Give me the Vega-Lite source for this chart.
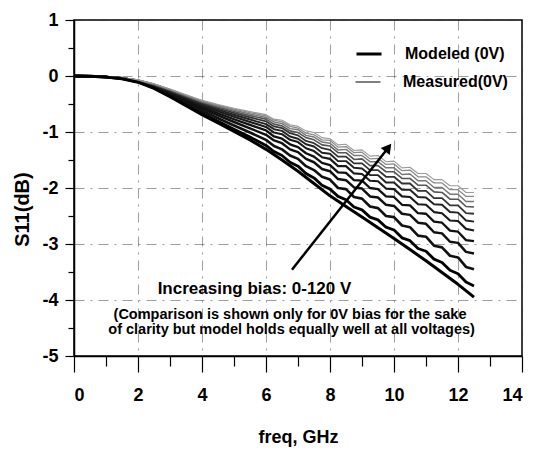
{
"$schema": "https://vega.github.io/schema/vega-lite/v6.json",
"width": 448, "height": 336,
"autosize": "none",
"padding": {"left": 74, "top": 20, "right": 11, "bottom": 99},
"background": "white",
"config": {
  "font": "Liberation Sans, Arial, sans-serif",
  "view": {"stroke": "#000", "strokeWidth": 1.5},
  "axis": {"domainColor": "#000", "domainWidth": 1.5, "tickColor": "#000", "tickWidth": 1.2, "labelColor": "#000", "titleColor": "#000", "labelFontWeight": "bold", "titleFontWeight": "bold", "gridColor": "#333", "gridDash": [10, 6, 2, 6], "gridWidth": 0.8, "gridOpacity": 0.6}
},
"resolve": {"axis": {"x": "independent", "y": "independent"}},
"layer": [
{
"data": {"values": [
{"s":"Measured(0V)","f":0,"v":0},{"s":"Measured(0V)","f":0.5,"v":-0.005},{"s":"Measured(0V)","f":1,"v":-0.019},{"s":"Measured(0V)","f":1.5,"v":-0.048},{"s":"Measured(0V)","f":2,"v":-0.106},{"s":"Measured(0V)","f":2.5,"v":-0.212},{"s":"Measured(0V)","f":3,"v":-0.357},{"s":"Measured(0V)","f":3.5,"v":-0.511},{"s":"Measured(0V)","f":4,"v":-0.665},{"s":"Measured(0V)","f":4.5,"v":-0.808},{"s":"Measured(0V)","f":5,"v":-0.95},{"s":"Measured(0V)","f":5.5,"v":-1.091},
{"s":"Measured(0V)","f":6,"v":-1.24},{"s":"Measured(0V)","f":6.25,"v":-1.35},{"s":"Measured(0V)","f":6.5,"v":-1.42},{"s":"Measured(0V)","f":6.75,"v":-1.54},{"s":"Measured(0V)","f":7,"v":-1.61},{"s":"Measured(0V)","f":7.25,"v":-1.74},{"s":"Measured(0V)","f":7.5,"v":-1.82},{"s":"Measured(0V)","f":7.75,"v":-1.95},{"s":"Measured(0V)","f":8,"v":-2.02},{"s":"Measured(0V)","f":8.25,"v":-2.15},{"s":"Measured(0V)","f":8.5,"v":-2.21},{"s":"Measured(0V)","f":8.75,"v":-2.34},{"s":"Measured(0V)","f":9,"v":-2.39},{"s":"Measured(0V)","f":9.25,"v":-2.52},{"s":"Measured(0V)","f":9.5,"v":-2.57},{"s":"Measured(0V)","f":9.75,"v":-2.70},{"s":"Measured(0V)","f":10,"v":-2.75},{"s":"Measured(0V)","f":10.25,"v":-2.89},{"s":"Measured(0V)","f":10.5,"v":-2.94},{"s":"Measured(0V)","f":10.75,"v":-3.08},{"s":"Measured(0V)","f":11,"v":-3.13},{"s":"Measured(0V)","f":11.25,"v":-3.27},{"s":"Measured(0V)","f":11.5,"v":-3.33},{"s":"Measured(0V)","f":11.75,"v":-3.47},{"s":"Measured(0V)","f":12,"v":-3.53},{"s":"Measured(0V)","f":12.25,"v":-3.68},{"s":"Measured(0V)","f":12.5,"v":-3.75},

{"s":"12V","f":0,"v":0},{"s":"12V","f":0.5,"v":-0.005},{"s":"12V","f":1,"v":-0.018},{"s":"12V","f":1.5,"v":-0.045},{"s":"12V","f":2,"v":-0.099},{"s":"12V","f":2.5,"v":-0.199},{"s":"12V","f":3,"v":-0.334},{"s":"12V","f":3.5,"v":-0.479},{"s":"12V","f":4,"v":-0.624},{"s":"12V","f":4.5,"v":-0.754},{"s":"12V","f":5,"v":-0.883},{"s":"12V","f":5.5,"v":-1.01},
{"s":"12V","f":6,"v":-1.14},{"s":"12V","f":6.25,"v":-1.25},{"s":"12V","f":6.5,"v":-1.31},{"s":"12V","f":6.75,"v":-1.42},{"s":"12V","f":7,"v":-1.48},{"s":"12V","f":7.25,"v":-1.61},{"s":"12V","f":7.5,"v":-1.68},{"s":"12V","f":7.75,"v":-1.80},{"s":"12V","f":8,"v":-1.85},{"s":"12V","f":8.25,"v":-2.00},{"s":"12V","f":8.5,"v":-2.02},{"s":"12V","f":8.75,"v":-2.16},{"s":"12V","f":9,"v":-2.19},{"s":"12V","f":9.25,"v":-2.33},{"s":"12V","f":9.5,"v":-2.36},{"s":"12V","f":9.75,"v":-2.50},{"s":"12V","f":10,"v":-2.52},{"s":"12V","f":10.25,"v":-2.67},{"s":"12V","f":10.5,"v":-2.70},{"s":"12V","f":10.75,"v":-2.85},{"s":"12V","f":11,"v":-2.87},{"s":"12V","f":11.25,"v":-3.03},{"s":"12V","f":11.5,"v":-3.06},{"s":"12V","f":11.75,"v":-3.21},{"s":"12V","f":12,"v":-3.24},{"s":"12V","f":12.25,"v":-3.41},{"s":"12V","f":12.5,"v":-3.45},

{"s":"24V","f":0,"v":0},{"s":"24V","f":0.5,"v":-0.004},{"s":"24V","f":1,"v":-0.017},{"s":"24V","f":1.5,"v":-0.042},{"s":"24V","f":2,"v":-0.093},{"s":"24V","f":2.5,"v":-0.187},{"s":"24V","f":3,"v":-0.314},{"s":"24V","f":3.5,"v":-0.449},{"s":"24V","f":4,"v":-0.585},{"s":"24V","f":4.5,"v":-0.705},{"s":"24V","f":5,"v":-0.821},{"s":"24V","f":5.5,"v":-0.935},
{"s":"24V","f":6,"v":-1.05},{"s":"24V","f":6.25,"v":-1.15},{"s":"24V","f":6.5,"v":-1.20},{"s":"24V","f":6.75,"v":-1.31},{"s":"24V","f":7,"v":-1.36},{"s":"24V","f":7.25,"v":-1.48},{"s":"24V","f":7.5,"v":-1.54},{"s":"24V","f":7.75,"v":-1.66},{"s":"24V","f":8,"v":-1.70},{"s":"24V","f":8.25,"v":-1.84},{"s":"24V","f":8.5,"v":-1.86},{"s":"24V","f":8.75,"v":-1.99},{"s":"24V","f":9,"v":-2.01},{"s":"24V","f":9.25,"v":-2.15},{"s":"24V","f":9.5,"v":-2.17},{"s":"24V","f":9.75,"v":-2.30},{"s":"24V","f":10,"v":-2.32},{"s":"24V","f":10.25,"v":-2.46},{"s":"24V","f":10.5,"v":-2.48},{"s":"24V","f":10.75,"v":-2.62},{"s":"24V","f":11,"v":-2.64},{"s":"24V","f":11.25,"v":-2.79},{"s":"24V","f":11.5,"v":-2.81},{"s":"24V","f":11.75,"v":-2.96},{"s":"24V","f":12,"v":-2.98},{"s":"24V","f":12.25,"v":-3.14},{"s":"24V","f":12.5,"v":-3.17},

{"s":"36V","f":0,"v":0},{"s":"36V","f":0.5,"v":-0.004},{"s":"36V","f":1,"v":-0.016},{"s":"36V","f":1.5,"v":-0.04},{"s":"36V","f":2,"v":-0.088},{"s":"36V","f":2.5,"v":-0.177},{"s":"36V","f":3,"v":-0.297},{"s":"36V","f":3.5,"v":-0.426},{"s":"36V","f":4,"v":-0.555},{"s":"36V","f":4.5,"v":-0.665},{"s":"36V","f":5,"v":-0.772},{"s":"36V","f":5.5,"v":-0.874},
{"s":"36V","f":6,"v":-0.97},{"s":"36V","f":6.25,"v":-1.08},{"s":"36V","f":6.5,"v":-1.12},{"s":"36V","f":6.75,"v":-1.22},{"s":"36V","f":7,"v":-1.27},{"s":"36V","f":7.25,"v":-1.38},{"s":"36V","f":7.5,"v":-1.44},{"s":"36V","f":7.75,"v":-1.55},{"s":"36V","f":8,"v":-1.59},{"s":"36V","f":8.25,"v":-1.72},{"s":"36V","f":8.5,"v":-1.73},{"s":"36V","f":8.75,"v":-1.86},{"s":"36V","f":9,"v":-1.87},{"s":"36V","f":9.25,"v":-2.00},{"s":"36V","f":9.5,"v":-2.02},{"s":"36V","f":9.75,"v":-2.15},{"s":"36V","f":10,"v":-2.16},{"s":"36V","f":10.25,"v":-2.30},{"s":"36V","f":10.5,"v":-2.31},{"s":"36V","f":10.75,"v":-2.45},{"s":"36V","f":11,"v":-2.46},{"s":"36V","f":11.25,"v":-2.60},{"s":"36V","f":11.5,"v":-2.62},{"s":"36V","f":11.75,"v":-2.76},{"s":"36V","f":12,"v":-2.78},{"s":"36V","f":12.25,"v":-2.93},{"s":"36V","f":12.5,"v":-2.95},

{"s":"48V","f":0,"v":0},{"s":"48V","f":0.5,"v":-0.004},{"s":"48V","f":1,"v":-0.015},{"s":"48V","f":1.5,"v":-0.038},{"s":"48V","f":2,"v":-0.084},{"s":"48V","f":2.5,"v":-0.168},{"s":"48V","f":3,"v":-0.283},{"s":"48V","f":3.5,"v":-0.405},{"s":"48V","f":4,"v":-0.527},{"s":"48V","f":4.5,"v":-0.629},{"s":"48V","f":5,"v":-0.728},{"s":"48V","f":5.5,"v":-0.821},
{"s":"48V","f":6,"v":-0.91},{"s":"48V","f":6.25,"v":-1.01},{"s":"48V","f":6.5,"v":-1.04},{"s":"48V","f":6.75,"v":-1.14},{"s":"48V","f":7,"v":-1.18},{"s":"48V","f":7.25,"v":-1.29},{"s":"48V","f":7.5,"v":-1.34},{"s":"48V","f":7.75,"v":-1.45},{"s":"48V","f":8,"v":-1.48},{"s":"48V","f":8.25,"v":-1.61},{"s":"48V","f":8.5,"v":-1.61},{"s":"48V","f":8.75,"v":-1.74},{"s":"48V","f":9,"v":-1.75},{"s":"48V","f":9.25,"v":-1.87},{"s":"48V","f":9.5,"v":-1.88},{"s":"48V","f":9.75,"v":-2.01},{"s":"48V","f":10,"v":-2.02},{"s":"48V","f":10.25,"v":-2.15},{"s":"48V","f":10.5,"v":-2.16},{"s":"48V","f":10.75,"v":-2.29},{"s":"48V","f":11,"v":-2.30},{"s":"48V","f":11.25,"v":-2.43},{"s":"48V","f":11.5,"v":-2.45},{"s":"48V","f":11.75,"v":-2.58},{"s":"48V","f":12,"v":-2.59},{"s":"48V","f":12.25,"v":-2.73},{"s":"48V","f":12.5,"v":-2.76},

{"s":"60V","f":0,"v":0},{"s":"60V","f":0.5,"v":-0.004},{"s":"60V","f":1,"v":-0.015},{"s":"60V","f":1.5,"v":-0.037},{"s":"60V","f":2,"v":-0.081},{"s":"60V","f":2.5,"v":-0.161},{"s":"60V","f":3,"v":-0.271},{"s":"60V","f":3.5,"v":-0.388},{"s":"60V","f":4,"v":-0.505},{"s":"60V","f":4.5,"v":-0.601},{"s":"60V","f":5,"v":-0.692},{"s":"60V","f":5.5,"v":-0.777},
{"s":"60V","f":6,"v":-0.86},{"s":"60V","f":6.25,"v":-0.95},{"s":"60V","f":6.5,"v":-0.98},{"s":"60V","f":6.75,"v":-1.08},{"s":"60V","f":7,"v":-1.12},{"s":"60V","f":7.25,"v":-1.22},{"s":"60V","f":7.5,"v":-1.26},{"s":"60V","f":7.75,"v":-1.37},{"s":"60V","f":8,"v":-1.39},{"s":"60V","f":8.25,"v":-1.52},{"s":"60V","f":8.5,"v":-1.52},{"s":"60V","f":8.75,"v":-1.64},{"s":"60V","f":9,"v":-1.65},{"s":"60V","f":9.25,"v":-1.77},{"s":"60V","f":9.5,"v":-1.77},{"s":"60V","f":9.75,"v":-1.90},{"s":"60V","f":10,"v":-1.90},{"s":"60V","f":10.25,"v":-2.03},{"s":"60V","f":10.5,"v":-2.03},{"s":"60V","f":10.75,"v":-2.16},{"s":"60V","f":11,"v":-2.17},{"s":"60V","f":11.25,"v":-2.29},{"s":"60V","f":11.5,"v":-2.30},{"s":"60V","f":11.75,"v":-2.43},{"s":"60V","f":12,"v":-2.44},{"s":"60V","f":12.25,"v":-2.58},{"s":"60V","f":12.5,"v":-2.60},

{"s":"72V","f":0,"v":0},{"s":"72V","f":0.5,"v":-0.004},{"s":"72V","f":1,"v":-0.014},{"s":"72V","f":1.5,"v":-0.035},{"s":"72V","f":2,"v":-0.077},{"s":"72V","f":2.5,"v":-0.155},{"s":"72V","f":3,"v":-0.26},{"s":"72V","f":3.5,"v":-0.373},{"s":"72V","f":4,"v":-0.486},{"s":"72V","f":4.5,"v":-0.576},{"s":"72V","f":5,"v":-0.66},{"s":"72V","f":5.5,"v":-0.74},
{"s":"72V","f":6,"v":-0.81},{"s":"72V","f":6.25,"v":-0.90},{"s":"72V","f":6.5,"v":-0.93},{"s":"72V","f":6.75,"v":-1.02},{"s":"72V","f":7,"v":-1.06},{"s":"72V","f":7.25,"v":-1.16},{"s":"72V","f":7.5,"v":-1.20},{"s":"72V","f":7.75,"v":-1.29},{"s":"72V","f":8,"v":-1.32},{"s":"72V","f":8.25,"v":-1.44},{"s":"72V","f":8.5,"v":-1.44},{"s":"72V","f":8.75,"v":-1.56},{"s":"72V","f":9,"v":-1.56},{"s":"72V","f":9.25,"v":-1.68},{"s":"72V","f":9.5,"v":-1.68},{"s":"72V","f":9.75,"v":-1.80},{"s":"72V","f":10,"v":-1.80},{"s":"72V","f":10.25,"v":-1.92},{"s":"72V","f":10.5,"v":-1.92},{"s":"72V","f":10.75,"v":-2.05},{"s":"72V","f":11,"v":-2.05},{"s":"72V","f":11.25,"v":-2.18},{"s":"72V","f":11.5,"v":-2.18},{"s":"72V","f":11.75,"v":-2.31},{"s":"72V","f":12,"v":-2.31},{"s":"72V","f":12.25,"v":-2.45},{"s":"72V","f":12.5,"v":-2.46},

{"s":"84V","f":0,"v":0},{"s":"84V","f":0.5,"v":-0.003},{"s":"84V","f":1,"v":-0.014},{"s":"84V","f":1.5,"v":-0.034},{"s":"84V","f":2,"v":-0.075},{"s":"84V","f":2.5,"v":-0.15},{"s":"84V","f":3,"v":-0.252},{"s":"84V","f":3.5,"v":-0.36},{"s":"84V","f":4,"v":-0.469},{"s":"84V","f":4.5,"v":-0.554},{"s":"84V","f":5,"v":-0.634},{"s":"84V","f":5.5,"v":-0.707},
{"s":"84V","f":6,"v":-0.77},{"s":"84V","f":6.25,"v":-0.86},{"s":"84V","f":6.5,"v":-0.89},{"s":"84V","f":6.75,"v":-0.98},{"s":"84V","f":7,"v":-1.01},{"s":"84V","f":7.25,"v":-1.10},{"s":"84V","f":7.5,"v":-1.14},{"s":"84V","f":7.75,"v":-1.23},{"s":"84V","f":8,"v":-1.25},{"s":"84V","f":8.25,"v":-1.37},{"s":"84V","f":8.5,"v":-1.37},{"s":"84V","f":8.75,"v":-1.49},{"s":"84V","f":9,"v":-1.48},{"s":"84V","f":9.25,"v":-1.60},{"s":"84V","f":9.5,"v":-1.60},{"s":"84V","f":9.75,"v":-1.71},{"s":"84V","f":10,"v":-1.71},{"s":"84V","f":10.25,"v":-1.83},{"s":"84V","f":10.5,"v":-1.83},{"s":"84V","f":10.75,"v":-1.95},{"s":"84V","f":11,"v":-1.95},{"s":"84V","f":11.25,"v":-2.07},{"s":"84V","f":11.5,"v":-2.08},{"s":"84V","f":11.75,"v":-2.20},{"s":"84V","f":12,"v":-2.20},{"s":"84V","f":12.25,"v":-2.33},{"s":"84V","f":12.5,"v":-2.34},

{"s":"96V","f":0,"v":0},{"s":"96V","f":0.5,"v":-0.003},{"s":"96V","f":1,"v":-0.013},{"s":"96V","f":1.5,"v":-0.033},{"s":"96V","f":2,"v":-0.073},{"s":"96V","f":2.5,"v":-0.145},{"s":"96V","f":3,"v":-0.244},{"s":"96V","f":3.5,"v":-0.35},{"s":"96V","f":4,"v":-0.455},{"s":"96V","f":4.5,"v":-0.537},{"s":"96V","f":5,"v":-0.612},{"s":"96V","f":5.5,"v":-0.679},
{"s":"96V","f":6,"v":-0.74},{"s":"96V","f":6.25,"v":-0.82},{"s":"96V","f":6.5,"v":-0.85},{"s":"96V","f":6.75,"v":-0.94},{"s":"96V","f":7,"v":-0.96},{"s":"96V","f":7.25,"v":-1.06},{"s":"96V","f":7.5,"v":-1.09},{"s":"96V","f":7.75,"v":-1.18},{"s":"96V","f":8,"v":-1.20},{"s":"96V","f":8.25,"v":-1.32},{"s":"96V","f":8.5,"v":-1.31},{"s":"96V","f":8.75,"v":-1.42},{"s":"96V","f":9,"v":-1.42},{"s":"96V","f":9.25,"v":-1.53},{"s":"96V","f":9.5,"v":-1.53},{"s":"96V","f":9.75,"v":-1.64},{"s":"96V","f":10,"v":-1.64},{"s":"96V","f":10.25,"v":-1.76},{"s":"96V","f":10.5,"v":-1.75},{"s":"96V","f":10.75,"v":-1.87},{"s":"96V","f":11,"v":-1.87},{"s":"96V","f":11.25,"v":-1.99},{"s":"96V","f":11.5,"v":-1.99},{"s":"96V","f":11.75,"v":-2.11},{"s":"96V","f":12,"v":-2.11},{"s":"96V","f":12.25,"v":-2.24},{"s":"96V","f":12.5,"v":-2.24},

{"s":"108V","f":0,"v":0},{"s":"108V","f":0.5,"v":-0.003},{"s":"108V","f":1,"v":-0.013},{"s":"108V","f":1.5,"v":-0.032},{"s":"108V","f":2,"v":-0.071},{"s":"108V","f":2.5,"v":-0.141},{"s":"108V","f":3,"v":-0.238},{"s":"108V","f":3.5,"v":-0.34},{"s":"108V","f":4,"v":-0.443},{"s":"108V","f":4.5,"v":-0.521},{"s":"108V","f":5,"v":-0.592},{"s":"108V","f":5.5,"v":-0.656},
{"s":"108V","f":6,"v":-0.71},{"s":"108V","f":6.25,"v":-0.79},{"s":"108V","f":6.5,"v":-0.82},{"s":"108V","f":6.75,"v":-0.90},{"s":"108V","f":7,"v":-0.93},{"s":"108V","f":7.25,"v":-1.02},{"s":"108V","f":7.5,"v":-1.05},{"s":"108V","f":7.75,"v":-1.14},{"s":"108V","f":8,"v":-1.15},{"s":"108V","f":8.25,"v":-1.27},{"s":"108V","f":8.5,"v":-1.26},{"s":"108V","f":8.75,"v":-1.37},{"s":"108V","f":9,"v":-1.36},{"s":"108V","f":9.25,"v":-1.48},{"s":"108V","f":9.5,"v":-1.47},{"s":"108V","f":9.75,"v":-1.58},{"s":"108V","f":10,"v":-1.57},{"s":"108V","f":10.25,"v":-1.69},{"s":"108V","f":10.5,"v":-1.68},{"s":"108V","f":10.75,"v":-1.80},{"s":"108V","f":11,"v":-1.80},{"s":"108V","f":11.25,"v":-1.91},{"s":"108V","f":11.5,"v":-1.91},{"s":"108V","f":11.75,"v":-2.03},{"s":"108V","f":12,"v":-2.03},{"s":"108V","f":12.25,"v":-2.15},{"s":"108V","f":12.5,"v":-2.15},

{"s":"120V","f":0,"v":0},{"s":"120V","f":0.5,"v":-0.003},{"s":"120V","f":1,"v":-0.013},{"s":"120V","f":1.5,"v":-0.031},{"s":"120V","f":2,"v":-0.069},{"s":"120V","f":2.5,"v":-0.138},{"s":"120V","f":3,"v":-0.232},{"s":"120V","f":3.5,"v":-0.333},{"s":"120V","f":4,"v":-0.433},{"s":"120V","f":4.5,"v":-0.508},{"s":"120V","f":5,"v":-0.576},{"s":"120V","f":5.5,"v":-0.636},
{"s":"120V","f":6,"v":-0.69},{"s":"120V","f":6.25,"v":-0.77},{"s":"120V","f":6.5,"v":-0.79},{"s":"120V","f":6.75,"v":-0.87},{"s":"120V","f":7,"v":-0.90},{"s":"120V","f":7.25,"v":-0.98},{"s":"120V","f":7.5,"v":-1.01},{"s":"120V","f":7.75,"v":-1.10},{"s":"120V","f":8,"v":-1.12},{"s":"120V","f":8.25,"v":-1.23},{"s":"120V","f":8.5,"v":-1.22},{"s":"120V","f":8.75,"v":-1.33},{"s":"120V","f":9,"v":-1.32},{"s":"120V","f":9.25,"v":-1.43},{"s":"120V","f":9.5,"v":-1.42},{"s":"120V","f":9.75,"v":-1.53},{"s":"120V","f":10,"v":-1.52},{"s":"120V","f":10.25,"v":-1.64},{"s":"120V","f":10.5,"v":-1.63},{"s":"120V","f":10.75,"v":-1.74},{"s":"120V","f":11,"v":-1.74},{"s":"120V","f":11.25,"v":-1.85},{"s":"120V","f":11.5,"v":-1.85},{"s":"120V","f":11.75,"v":-1.96},{"s":"120V","f":12,"v":-1.96},{"s":"120V","f":12.25,"v":-2.08},{"s":"120V","f":12.5,"v":-2.08},

{"s":"Modeled (0V)","f":0,"v":0},{"s":"Modeled (0V)","f":0.5,"v":-0.005},{"s":"Modeled (0V)","f":1,"v":-0.02},{"s":"Modeled (0V)","f":1.5,"v":-0.05},{"s":"Modeled (0V)","f":2,"v":-0.11},{"s":"Modeled (0V)","f":2.5,"v":-0.22},{"s":"Modeled (0V)","f":3,"v":-0.37},{"s":"Modeled (0V)","f":3.5,"v":-0.53},{"s":"Modeled (0V)","f":4,"v":-0.69},{"s":"Modeled (0V)","f":4.5,"v":-0.84},{"s":"Modeled (0V)","f":5,"v":-0.99},{"s":"Modeled (0V)","f":5.5,"v":-1.14},{"s":"Modeled (0V)","f":6,"v":-1.31},{"s":"Modeled (0V)","f":6.5,"v":-1.5},{"s":"Modeled (0V)","f":7,"v":-1.7},{"s":"Modeled (0V)","f":7.5,"v":-1.92},{"s":"Modeled (0V)","f":8,"v":-2.14},{"s":"Modeled (0V)","f":8.5,"v":-2.33},{"s":"Modeled (0V)","f":9,"v":-2.52},{"s":"Modeled (0V)","f":9.5,"v":-2.71},{"s":"Modeled (0V)","f":10,"v":-2.9},{"s":"Modeled (0V)","f":10.5,"v":-3.1},{"s":"Modeled (0V)","f":11,"v":-3.3},{"s":"Modeled (0V)","f":11.5,"v":-3.51},{"s":"Modeled (0V)","f":12,"v":-3.72},{"s":"Modeled (0V)","f":12.5,"v":-3.95}
]},
"mark": {"type": "line", "interpolate": "linear", "strokeJoin": "round"},
"encoding": {
  "x": {"field": "f", "type": "quantitative", "scale": {"domain": [0, 14], "nice": false, "zero": false},
        "axis": {"orient": "bottom", "values": [0, 2, 4, 6, 8, 10, 12, 14], "tickSize": 16, "labelPadding": 14, "labelFontSize": 18, "grid": true, "title": "freq, GHz", "titleFontSize": 18, "titleY": 81, "titleBaseline": "middle"}},
  "y": {"field": "v", "type": "quantitative", "scale": {"domain": [-5, 1], "nice": false, "zero": false},
        "axis": {"orient": "left", "values": [1, 0, -1, -2, -3, -4, -5], "labelExpr": "'' + datum.value", "tickSize": 9, "labelPadding": 7, "labelFontSize": 18, "grid": true, "title": "S11(dB)", "titleFontSize": 20, "titleAngle": -90, "titleX": -52, "titleY": 189, "titleAlign": "center", "titleBaseline": "middle"}},
  "color": {"field": "s", "type": "nominal",
    "scale": {"domain": ["Modeled (0V)", "Measured(0V)", "12V", "24V", "36V", "48V", "60V", "72V", "84V", "96V", "108V", "120V"],
              "range": ["#000000", "#000000", "#111111", "#111111", "#111111", "#1a1a1a", "#222222", "#333333", "#555555", "#777777", "#8a8a8a", "#9a9a9a"]},
    "legend": {"values": ["Modeled (0V)"], "orient": "none", "legendX": 281, "legendY": 20, "title": null, "symbolType": "stroke", "symbolSize": 625, "symbolStrokeWidth": 3, "labelFontSize": 16, "labelFontWeight": "bold", "labelColor": "#000", "labelOffset": 22, "padding": 0}},
  "strokeWidth": {"field": "s", "type": "nominal",
    "scale": {"domain": ["Modeled (0V)", "Measured(0V)", "12V", "24V", "36V", "48V", "60V", "72V", "84V", "96V", "108V", "120V"],
              "range": [3, 1.1, 1.2, 1.2, 1.2, 1.2, 1.2, 1.2, 1.1, 1.1, 1.1, 1.1]},
    "legend": null},
  "opacity": {"field": "s", "type": "nominal",
    "scale": {"domain": ["Measured(0V)", "Modeled (0V)", "12V", "24V", "36V", "48V", "60V", "72V", "84V", "96V", "108V", "120V"],
              "range": [1, 1, 1, 1, 1, 1, 1, 1, 1, 1, 1, 1]},
    "legend": {"values": ["Measured(0V)"], "orient": "none", "legendX": 281, "legendY": 49, "title": null, "symbolType": "stroke", "symbolSize": 625, "symbolStrokeWidth": 1, "symbolStrokeColor": "#000", "labelFontSize": 16, "labelFontWeight": "bold", "labelColor": "#000", "labelOffset": 22, "padding": 0}}
}
},
{
"data": {"values": [{"x": 5.64, "y": -3.8, "t": "Increasing bias: 0-120 V"}]},
"mark": {"type": "text", "fontSize": 17, "fontWeight": "bold", "align": "center", "baseline": "middle", "color": "#000"},
"encoding": {
  "x": {"field": "x", "type": "quantitative", "scale": {"domain": [0, 14], "nice": false, "zero": false},
        "axis": {"orient": "bottom", "values": [1, 3, 5, 7, 9, 11, 13], "labels": false, "grid": false, "domain": false, "tickSize": 10, "title": null}},
  "y": {"field": "y", "type": "quantitative", "scale": {"domain": [-5, 1], "nice": false, "zero": false},
        "axis": {"orient": "left", "values": [0.5, -0.5, -1.5, -2.5, -3.5, -4.5], "labels": false, "grid": false, "domain": false, "tickSize": 6, "title": null}},
  "text": {"field": "t"}
}
},
{
"data": {"values": [
  {"x": 6.75, "y": -4.27, "t": "(Comparison is shown only for 0V bias for the sake"},
  {"x": 6.8, "y": -4.53, "t": "of clarity but model holds equally well at all voltages)"}
]},
"mark": {"type": "text", "fontSize": 14.5, "fontWeight": "bold", "align": "center", "baseline": "middle", "color": "#000"},
"encoding": {
  "x": {"field": "x", "type": "quantitative", "axis": null},
  "y": {"field": "y", "type": "quantitative", "axis": null},
  "text": {"field": "t"}
}
},
{
"data": {"values": [{"x": 6.81, "y": -3.46, "x2": 9.82, "y2": -1.28}]},
"mark": {"type": "rule", "strokeWidth": 2.5, "color": "#000"},
"encoding": {
  "x": {"field": "x", "type": "quantitative", "axis": null},
  "y": {"field": "y", "type": "quantitative", "axis": null},
  "x2": {"field": "x2"},
  "y2": {"field": "y2"}
}
},
{
"data": {"values": [{"x": 9.82, "y": -1.28}]},
"mark": {"type": "point", "shape": "triangle-up", "angle": 37.6, "size": 130, "filled": true, "color": "#000", "opacity": 1},
"encoding": {
  "x": {"field": "x", "type": "quantitative", "axis": null},
  "y": {"field": "y", "type": "quantitative", "axis": null}
}
}
]
}
